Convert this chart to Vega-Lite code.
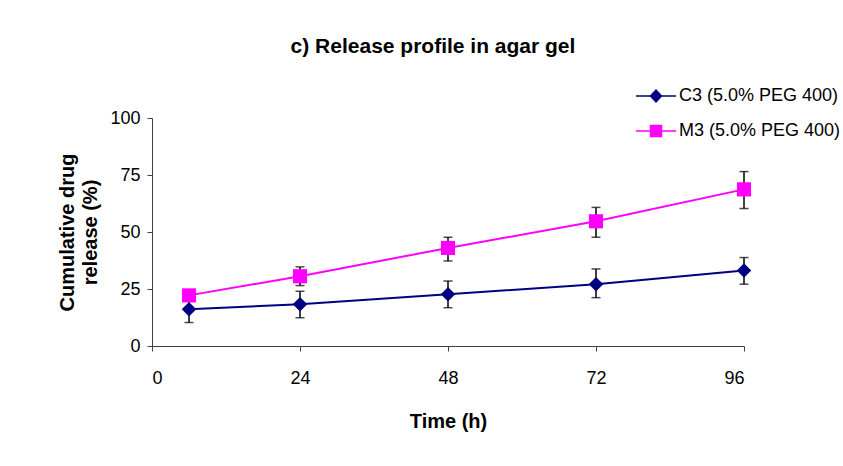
{
  "$schema": "https://vega.github.io/schema/vega-lite/v6.json",
  "width": 592,
  "height": 228,
  "autosize": {"type": "none"},
  "padding": {"left": 152, "top": 118, "right": 99, "bottom": 120},
  "background": "white",
  "config": {
    "view": {"stroke": null},
    "font": "Liberation Sans",
    "axis": {
      "grid": false,
      "domainColor": "#404040",
      "tickColor": "#404040",
      "domainWidth": 1,
      "tickWidth": 1,
      "tickSize": 5,
      "labelColor": "black",
      "labelFont": "Liberation Sans",
      "labelFontSize": 18,
      "titleColor": "black",
      "titleFont": "Liberation Sans",
      "titleFontSize": 20,
      "titleFontWeight": "bold"
    },
    "legend": {
      "orient": "none",
      "title": null,
      "labelFontSize": 18,
      "labelFont": "Liberation Sans",
      "labelColor": "black",
      "symbolSize": 400,
      "symbolStrokeWidth": 1.5,
      "labelOffset": 12,
      "padding": 0,
      "labelLimit": 300
    }
  },
  "title": {
    "text": "c) Release profile in agar gel",
    "font": "Liberation Sans",
    "fontSize": 21,
    "fontWeight": "bold",
    "color": "black",
    "anchor": "middle",
    "frame": "group",
    "baseline": "alphabetic",
    "offset": 11,
    "dx": -15
  },
  "data": {
    "values": [
      {"series": "C3 (5.0% PEG 400)", "time": 6, "release": 16.1, "lower": 10.3, "upper": 21.9},
      {"series": "C3 (5.0% PEG 400)", "time": 24, "release": 18.3, "lower": 12.4, "upper": 24.0},
      {"series": "C3 (5.0% PEG 400)", "time": 48, "release": 22.7, "lower": 16.8, "upper": 28.5},
      {"series": "C3 (5.0% PEG 400)", "time": 72, "release": 27.1, "lower": 21.2, "upper": 33.8},
      {"series": "C3 (5.0% PEG 400)", "time": 96, "release": 33.1, "lower": 27.1, "upper": 38.8},
      {"series": "M3 (5.0% PEG 400)", "time": 6, "release": 22.2, "lower": 20.2, "upper": 24.2},
      {"series": "M3 (5.0% PEG 400)", "time": 24, "release": 30.6, "lower": 26.5, "upper": 34.7},
      {"series": "M3 (5.0% PEG 400)", "time": 48, "release": 43.0, "lower": 37.3, "upper": 47.7},
      {"series": "M3 (5.0% PEG 400)", "time": 72, "release": 54.7, "lower": 47.7, "upper": 60.8},
      {"series": "M3 (5.0% PEG 400)", "time": 96, "release": 68.7, "lower": 60.3, "upper": 76.5}
    ]
  },
  "resolve": {"scale": {"color": "independent"}, "legend": {"color": "independent"}},
  "layer": [
    {
      "mark": {"type": "errorbar", "color": "black", "thickness": 1.5, "ticks": {"size": 9}},
      "encoding": {
        "x": {
          "field": "time", "type": "quantitative",
          "scale": {"domain": [0, 96], "nice": false},
          "axis": {"values": [0, 24, 48, 72, 96], "labelPadding": 18, "titlePadding": 24, "title": "Time (h)"}
        },
        "y": {
          "field": "lower", "type": "quantitative",
          "scale": {"domain": [0, 100], "nice": false},
          "axis": {"values": [0, 25, 50, 75, 100], "labelPadding": 7, "titlePadding": 9, "title": ["Cumulative drug", "release (%)"], "titleLineHeight": 23}
        },
        "y2": {"field": "upper"}
      }
    },
    {
      "transform": [{"filter": "datum.series === 'C3 (5.0% PEG 400)'"}],
      "layer": [
        {
          "mark": {"type": "line", "strokeWidth": 2},
          "encoding": {
            "x": {"field": "time", "type": "quantitative"},
            "y": {"field": "release", "type": "quantitative"},
            "color": {
              "field": "series", "type": "nominal",
              "scale": {"domain": ["C3 (5.0% PEG 400)"], "range": ["#000080"]},
              "legend": {
                "legendX": 493, "legendY": -33,
                "symbolType": "M-2,0H-0.55L0,-0.6L0.55,0H2M0.55,0L0,0.6L-0.55,0Z",
                "symbolFillColor": "#000080", "symbolStrokeColor": "#000080"
              }
            }
          }
        },
        {
          "mark": {"type": "point", "filled": true, "shape": "diamond", "size": 210, "opacity": 1, "color": "#000080"},
          "encoding": {
            "x": {"field": "time", "type": "quantitative"},
            "y": {"field": "release", "type": "quantitative"}
          }
        }
      ]
    },
    {
      "transform": [{"filter": "datum.series === 'M3 (5.0% PEG 400)'"}],
      "layer": [
        {
          "mark": {"type": "line", "strokeWidth": 2},
          "encoding": {
            "x": {"field": "time", "type": "quantitative"},
            "y": {"field": "release", "type": "quantitative"},
            "color": {
              "field": "series", "type": "nominal",
              "scale": {"domain": ["M3 (5.0% PEG 400)"], "range": ["#FF00FF"]},
              "legend": {
                "legendX": 493, "legendY": 2,
                "symbolType": "M-2,0H-0.55V-0.55H0.55V0H2M0.55,0V0.55H-0.55V0Z",
                "symbolFillColor": "#FF00FF", "symbolStrokeColor": "#FF00FF"
              }
            }
          }
        },
        {
          "mark": {"type": "point", "filled": true, "shape": "square", "size": 200, "opacity": 1, "color": "#FF00FF"},
          "encoding": {
            "x": {"field": "time", "type": "quantitative"},
            "y": {"field": "release", "type": "quantitative"}
          }
        }
      ]
    }
  ]
}
